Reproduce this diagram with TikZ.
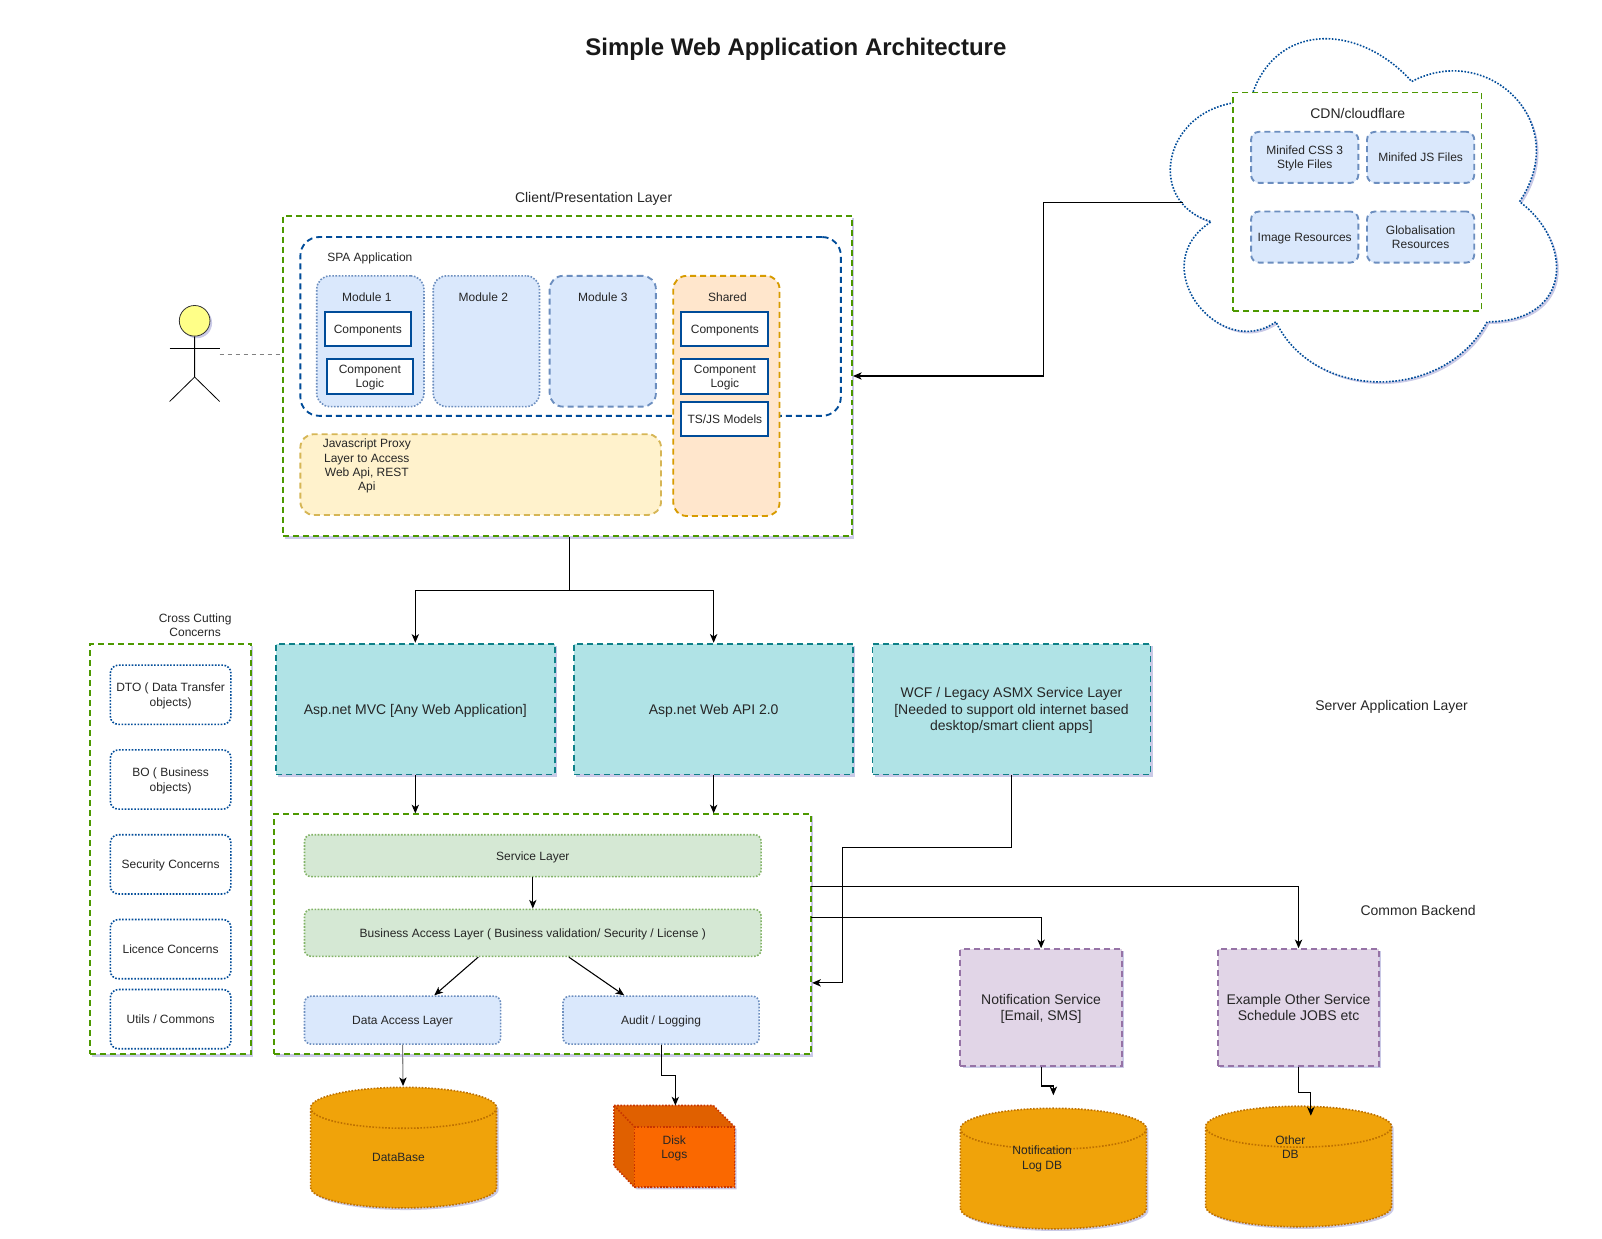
\documentclass[tikz,border=0pt]{standalone}
\usepackage{fontspec}
\setmainfont{Liberation Sans}
\usetikzlibrary{arrows.meta,shadows,shapes.geometric}

\definecolor{grn}{HTML}{4D9900}
\definecolor{navy}{HTML}{004C99}
\definecolor{bluef}{HTML}{DAE8FC}
\definecolor{blued}{HTML}{6C8EBF}
\definecolor{orgf}{HTML}{FFE6CC}
\definecolor{orgd}{HTML}{D79B00}
\definecolor{yelf}{HTML}{FFF2CC}
\definecolor{yeld}{HTML}{D6B656}
\definecolor{tealf}{HTML}{B0E3E6}
\definecolor{teald}{HTML}{0E8088}
\definecolor{purf}{HTML}{E1D5E7}
\definecolor{purd}{HTML}{9673A6}
\definecolor{grf}{HTML}{D5E8D4}
\definecolor{grd}{HTML}{82B366}
\definecolor{cylf}{HTML}{F0A30A}
\definecolor{cyld}{HTML}{BD7000}
\definecolor{diskf}{HTML}{FA6800}
\definecolor{disks}{HTML}{E06000}
\definecolor{diskd}{HTML}{C73500}
\definecolor{headf}{HTML}{FFFF88}

\tikzset{wh/.style 2 args={minimum width=#1*0.7663pt, minimum height=#2*0.7663pt}}

\tikzstyle{shade} = [drop shadow={shadow xshift=1.6pt, shadow yshift=-1.6pt, fill=black!45!blue!35, opacity=0.6}]
\tikzstyle{dash_line} = [dash pattern=on 4.5pt off 3pt, line width=1.4pt]
\tikzstyle{dot_line} = [dash pattern=on 1.2pt off 1.2pt, line width=1.2pt]
\tikzstyle{txt_s} = [font=\fontsize{9}{10.7}\selectfont, align=center, inner sep=0pt, text height=6.5pt, text depth=0pt, text=black!85]
\tikzstyle{txt_m} = [font=\fontsize{10.5}{12.3}\selectfont, align=center, inner sep=0pt, text height=7.6pt, text depth=0pt, text=black!85]
\tikzstyle{two_s} = [text height=17.2pt]
\tikzstyle{four_s} = [text height=38.6pt]
\tikzstyle{two_m} = [text height=19.9pt]
\tikzstyle{three_m} = [text height=32.2pt]
\tikzstyle{group_box} = [rectangle, draw=grn, fill=white, dash_line, shade, txt_s]
\tikzstyle{server_box} = [rectangle, draw=teald, fill=tealf, dash_line, shade, txt_m]
\tikzstyle{backend_box} = [rectangle, draw=purd, fill=purf, dash_line, shade, txt_m]
\tikzstyle{comp_box} = [rectangle, draw=navy, fill=white, line width=1.5pt, txt_s]
\tikzstyle{card_dot} = [rectangle, rounded corners=10pt, draw=blued, fill=bluef, dot_line, txt_s]
\tikzstyle{card_dash} = [rectangle, rounded corners=10pt, draw=blued, fill=bluef, dash_line, txt_s]
\tikzstyle{card_small} = [rectangle, rounded corners=6pt, draw=blued, fill=bluef, dash_line, txt_s]
\tikzstyle{layer_green} = [rectangle, rounded corners=5pt, draw=grd, fill=grf, dot_line, txt_s]
\tikzstyle{layer_blue} = [rectangle, rounded corners=5pt, draw=blued, fill=bluef, dot_line, txt_s]
\tikzstyle{concern_box} = [rectangle, rounded corners=6pt, draw=navy, fill=white, dot_line, txt_s]
\tikzstyle{db} = [cylinder, shape border rotate=90, aspect=4.6, draw=cyld, fill=cylf, dot_line, shade, wh={182}{118}]
\tikzstyle{line} = [draw, line width=0.8pt, -{Stealth[length=6.5pt,width=5.5pt,inset=1.8pt,black]}]

\begin{document}
\begin{tikzpicture}[x=0.7663pt, y=-0.7663pt]
	\useasboundingbox (0,0) rectangle (1568,1211.8);

	%Title and free labels
	\node [font=\fontsize{18}{20}\selectfont\bfseries, inner sep=0pt, text height=13pt, text depth=0pt, text=black!90] (title) at (779,46) {Simple Web Application Architecture};
	\node [txt_m] (clientlabel) at (581,193) {Client/Presentation Layer};
	\node [txt_m] (serverlabel) at (1362,690) {Server Application Layer};
	\node [txt_m] (backendlabel) at (1388,891) {Common Backend};
	\node [txt_s, two_s] (crosslabel) at (191,612) {Cross Cutting\\Concerns};

	%Cloud
	\path [draw=navy, fill=white, dot_line, shade] (1223.5,99.4)
		.. controls (1139.1,99.4) and (1118,197.4) .. (1185.5,217)
		.. controls (1118,260.1) and (1194,354.2) .. (1248.8,315)
		.. controls (1286.8,393.4) and (1413.4,393.4) .. (1455.6,315)
		.. controls (1540,315) and (1540,236.6) .. (1487.3,197.4)
		.. controls (1540,119) and (1455.6,40.6) .. (1381.75,79.8)
		.. controls (1329,21) and (1244.6,21) .. (1223.5,99.4) -- cycle;
	\coordinate (cloudleft) at (1158,198);
	\node [rectangle, draw=grn, fill=white, dash_line, wh={243}{214}] (cdn) at (1328.5,197.5) {};
	\node [txt_m] (cdnlabel) at (1329,111) {CDN/cloudflare};
	\node [card_small, two_s, wh={105}{50}] (css) at (1277,154) {Minifed CSS 3\\Style Files};
	\node [card_small, wh={105}{50}] (js) at (1390.5,154) {Minifed JS Files};
	\node [card_small, wh={105}{50}] (img) at (1277,232) {Image Resources};
	\node [card_small, two_s, wh={105}{50}] (glob) at (1390.5,232) {Globalisation\\Resources};

	%Actor
	\node [circle, draw=black!80, fill=headf, line width=0.6pt, shade, minimum size=30*0.7663pt, inner sep=0pt] (head) at (190.5,314) {};
	\coordinate (armleft) at (166,341);
	\coordinate (armright) at (215,341);
	\coordinate (hip) at (190.5,369);
	\coordinate (footleft) at (166,393);
	\coordinate (footright) at (215,393);
	\coordinate (actorlink) at (215,347);
	\draw [line width=0.6pt] (head.south) -- (hip) -- (footleft);
	\draw [line width=0.6pt] (hip) -- (footright);
	\draw [line width=0.6pt] (armleft) -- (armright);

	%Client layer
	\node [group_box, wh={557}{314}] (client) at (555.5,368) {};
	\draw [gray, dashed, line width=0.5pt] (actorlink) -- (client.west |- actorlink);
	\node [rectangle, rounded corners=14pt, draw=navy, dash_line, wh={529}{175}] (spa) at (558.5,319.5) {};
	\node [txt_s] (spalabel) at (362,252) {SPA Application};
	\node [card_dot, wh={105}{128}] (mod1) at (362.5,334) {};
	\node [txt_s] (mod1label) at (359,291) {Module 1};
	\node [comp_box, wh={84}{34}] (comp1) at (360,322) {Components};
	\node [comp_box, two_s, wh={84}{35}] (logic1) at (362,368.5) {Component\\Logic};
	\node [card_dot, wh={104}{128}] (mod2) at (476,334) {};
	\node [txt_s] (mod2label) at (473,291) {Module 2};
	\node [card_dash, wh={104}{128}] (mod3) at (590,334) {};
	\node [txt_s] (mod3label) at (590,291) {Module 3};
	\node [rectangle, rounded corners=10pt, draw=orgd, fill=orgf, dash_line, wh={104}{235}] (shared) at (711,387.5) {};
	\node [txt_s] (sharedlabel) at (712,291) {Shared};
	\node [comp_box, wh={85}{34}] (comp2) at (709.5,322) {Components};
	\node [comp_box, two_s, wh={85}{35}] (logic2) at (709.5,368.5) {Component\\Logic};
	\node [comp_box, wh={85}{34}] (models) at (709.5,410) {TS/JS Models};
	\node [rectangle, rounded corners=10pt, draw=yeld, fill=yelf, dash_line, wh={353}{79}] (proxy) at (470.5,464.5) {};
	\node [txt_s, four_s] (proxylabel) at (359,455) {Javascript Proxy\\Layer to Access\\Web Api, REST\\Api};

	%Cross cutting concerns
	\node [group_box, wh={158}{402}] (cross) at (167,831) {};
	\node [concern_box, two_s, wh={118}{58}] (dto) at (167,680) {DTO ( Data Transfer\\objects)};
	\node [concern_box, two_s, wh={118}{58}] (bo) at (167,763) {BO ( Business\\objects)};
	\node [concern_box, wh={118}{58}] (security) at (167,846) {Security Concerns};
	\node [concern_box, wh={118}{58}] (licence) at (167,929) {Licence Concerns};
	\node [concern_box, wh={118}{58}] (utils) at (167,997.5) {Utils / Commons};

	%Server application layer
	\node [server_box, wh={273}{128}] (mvc) at (406.5,694) {Asp.net MVC [Any Web Application]};
	\node [server_box, wh={273}{128}] (webapi) at (698.5,694) {Asp.net Web API 2.0};
	\node [server_box, three_m, wh={272}{128}] (wcf) at (990,694) {WCF / Legacy ASMX Service Layer\\{[}Needed to support old internet based\\desktop/smart client apps]};

	%Common backend
	\node [group_box, wh={526}{235}] (backend) at (531,914.5) {};
	\node [layer_green, wh={447}{41}] (service) at (521.5,837.5) {Service Layer};
	\node [layer_green, wh={447}{46}] (bal) at (521.5,913) {Business Access Layer ( Business validation/ Security / License )};
	\node [layer_blue, wh={192}{47}] (dal) at (394,998.5) {Data Access Layer};
	\node [layer_blue, wh={192}{47}] (audit) at (647,998.5) {Audit / Logging};
	\node [backend_box, two_m, wh={158}{114}] (notify) at (1019,986) {Notification Service\\{[}Email, SMS]};
	\node [backend_box, two_m, wh={158}{114}] (other) at (1271,986) {Example Other Service\\Schedule JOBS etc};

	%Stores
	\node [db] (database) at (395,1136.7) {};
	\node [txt_s] (databaselabel) at (390,1133) {DataBase};
	\node [db] (notifydb) at (1031,1157.2) {};
	\node [txt_s, two_s] (notifydblabel) at (1020,1133) {Notification\\Log DB};
	\node [db] (otherdb) at (1271,1155.2) {};
	\node [txt_s, two_s] (otherdblabel) at (1263,1123) {Other\\DB};
	\path [draw=diskd, fill=disks, dot_line, shade] (601,1082) -- (698,1082) -- (719,1103) -- (719,1162) -- (621,1162) -- (601,1141) -- cycle;
	\draw [draw=diskd, dot_line] (601,1082) -- (621,1103);
	\node [rectangle, draw=diskd, fill=diskf, dot_line, wh={98}{59}] (disk) at (670,1132.5) {};
	\node [txt_s, two_s] (disklabel) at (660,1123) {Disk\\Logs};
	\coordinate (disktop) at (661,1082);

	%Lines
	\coordinate (clientsplit) at (557,578);
	\coordinate (wcfdrop) at (825,962);
	\coordinate (notifyout) at (794,898);
	\coordinate (otherout) at (794,868);
	\coordinate (notifyend) at (1031,1072);
	\coordinate (otherend) at (1283,1092);
	\coordinate (dbtop) at (394.5,1063);
	\path [line] (cloudleft) -- ++(-137,0) |- (client.east);
	\draw [line width=0.8pt] (client.south -| clientsplit) -- (clientsplit);
	\path [line] (clientsplit) -| (mvc.north);
	\path [line] (clientsplit) -| (webapi.north);
	\path [line] (mvc.south) -- (mvc.south |- backend.north);
	\path [line] (webapi.south) -- (webapi.south |- backend.north);
	\path [line] (wcf.south) -- ++(0,71) -| (wcfdrop) -- (backend.east |- wcfdrop);
	\path [line] (service.south) -- (bal.north);
	\path [line] (bal.204.5) -- (dal.38);
	\path [line] (bal.-34.5) -- (audit.146.9);
	\path [line] (notifyout) -| (notify.north);
	\path [line] (otherout) -| (other.north);
	\path [line, draw=gray] (dal.south) -- (dbtop);
	\path [line] (audit.south) -- ++(0,30) -| (disktop);
	\path [line] (notify.south) -- ++(0,19) -| (notifyend);
	\path [line] (other.south) -- ++(0,25) -| (otherend);
\end{tikzpicture}
\end{document}
